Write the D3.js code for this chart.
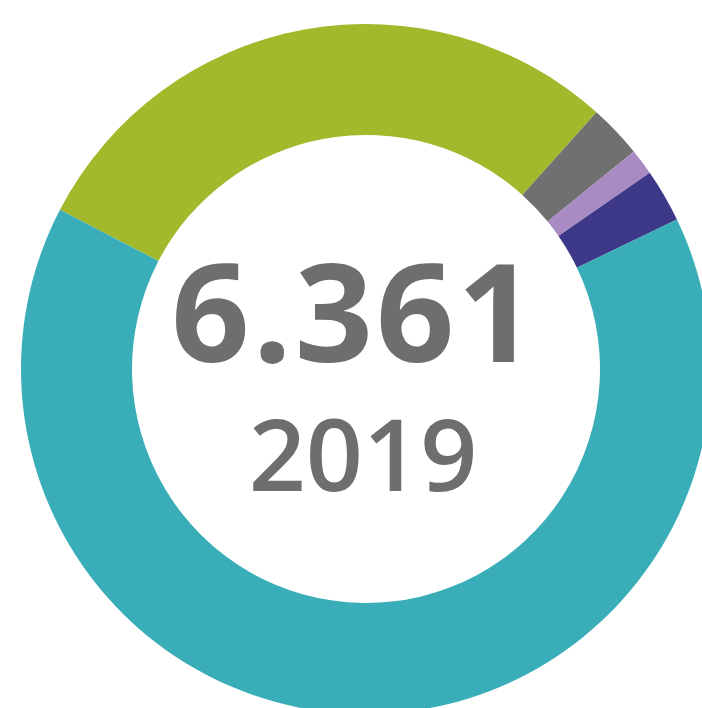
<!DOCTYPE html>
<html>
<head>
<meta charset="utf-8">
<script src="https://cdn.jsdelivr.net/npm/d3@7"></script>
<style>
  html, body { margin: 0; padding: 0; background: #fff; }
  svg { display: block; }
</style>
</head>
<body>
<div id="Results"><svg width="702" height="708"></svg></div>
<script>
// slices in clockwise order, starting at the green one
var categories = ['A', 'B', 'C', 'D', 'E'];
var values = [1845, 159, 78, 159, 4120];
var colors = ['#a3b82b', '#707070', '#a98bc3', '#3d3887', '#3aaeb8'];
var totalLabel = '6.361';
var yearLabel = '2019';

var data = categories.map(function(c, i) { return { cat: c, value: values[i] }; });

var svg = d3.select('#Results').select('svg');
var cx = 366, cy = 369;
var outerR = 345, innerR = 234;

var g = svg.append('g')
  .attr('transform', 'translate(' + cx + ',' + cy + ')');

var pie = d3.pie()
  .sort(null)
  .value(function(d) { return d.value; })
  .startAngle(-62.5 * Math.PI / 180)
  .endAngle((360 - 62.5) * Math.PI / 180);

var arc = d3.arc().innerRadius(innerR).outerRadius(outerR);

var color = d3.scaleOrdinal().domain(categories).range(colors);

g.selectAll('.slice')
  .data(pie(data))
  .enter().append('path')
  .attr('class', 'slice')
  .attr('d', arc)
  .attr('fill', function(d) { return color(d.data.cat); });

g.append('text')
  .attr('x', -11)
  .attr('y', -7)
  .attr('text-anchor', 'middle')
  .style('font-family', '"Open Sans", sans-serif')
  .style('font-weight', 'bold')
  .style('font-size', '137px')
  .style('letter-spacing', '3px')
  .style('fill', '#6e6e6e')
  .text(totalLabel);

g.append('text')
  .attr('x', -3)
  .attr('y', 122)
  .attr('text-anchor', 'middle')
  .style('font-family', '"Open Sans", sans-serif')
  .style('font-weight', '600')
  .style('font-size', '100px')
  .style('fill', '#6e6e6e')
  .text(yearLabel);
</script>
</body>
</html>
